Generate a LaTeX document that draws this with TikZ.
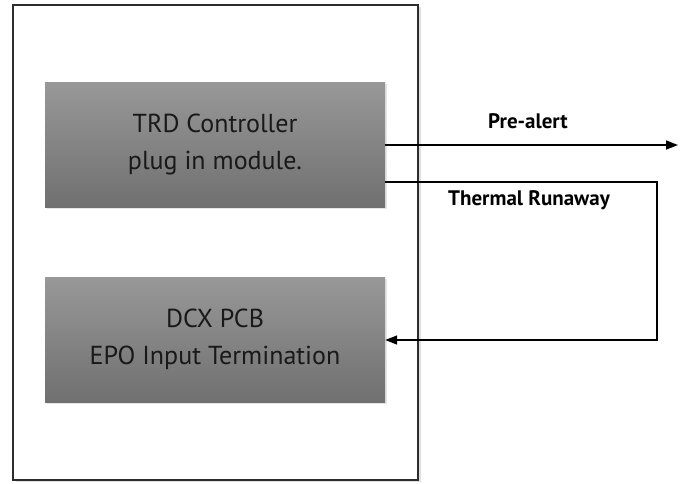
\documentclass[tikz,border=0pt]{standalone}
\usepackage{fontspec}
\setmainfont{PT Sans}
\usepackage{tikz}
\usetikzlibrary{arrows.meta,shadows}

\definecolor{boxtop}{RGB}{152,152,152}
\definecolor{boxbottom}{RGB}{112,112,112}
\definecolor{framegray}{RGB}{45,45,45}

\begin{document}
\begin{tikzpicture}[
x=1pt,y=-1pt,
frame/.style={draw=framegray,line width=2pt,fill=white,minimum width=405pt,minimum height=475pt,
  drop shadow={opacity=0.25,shadow xshift=3pt,shadow yshift=-2pt}},
module/.style={top color=boxtop,bottom color=boxbottom,minimum width=340pt,minimum height=125pt,
  align=center,font=\fontsize{26}{37}\selectfont,text=black!90,
  drop shadow={opacity=0.2,shadow xshift=2pt,shadow yshift=-2pt}},
signal/.style={font=\bfseries\fontsize{21}{24}\selectfont,inner sep=1pt},
arrow/.style={-{Triangle[length=12pt,width=9pt]},line width=1.6pt} ]

\useasboundingbox (0,0) rectangle (685,483);

\node[frame] (box) at (215.5,242.5) {};

\node[module] (trd) at (215,144.5) {TRD Controller\\plug in module.};

\node[module] (dcx) at (215,339.5) {DCX PCB\\EPO Input Termination};

\coordinate (out) at (678,145);
\coordinate (turn1) at (657,182);
\coordinate (turn2) at (657,340);

\draw[arrow] (trd.east |- out) -- (out);
\node[signal, anchor=base] (pre) at (528,128) {Pre-alert};

\draw[arrow] (trd.east |- turn1) -- (turn1) -- (turn2) -- (dcx.east |- turn2);
\node[signal, anchor=base] (thermal) at (529,205) {Thermal Runaway};

\end{tikzpicture}
\end{document}
